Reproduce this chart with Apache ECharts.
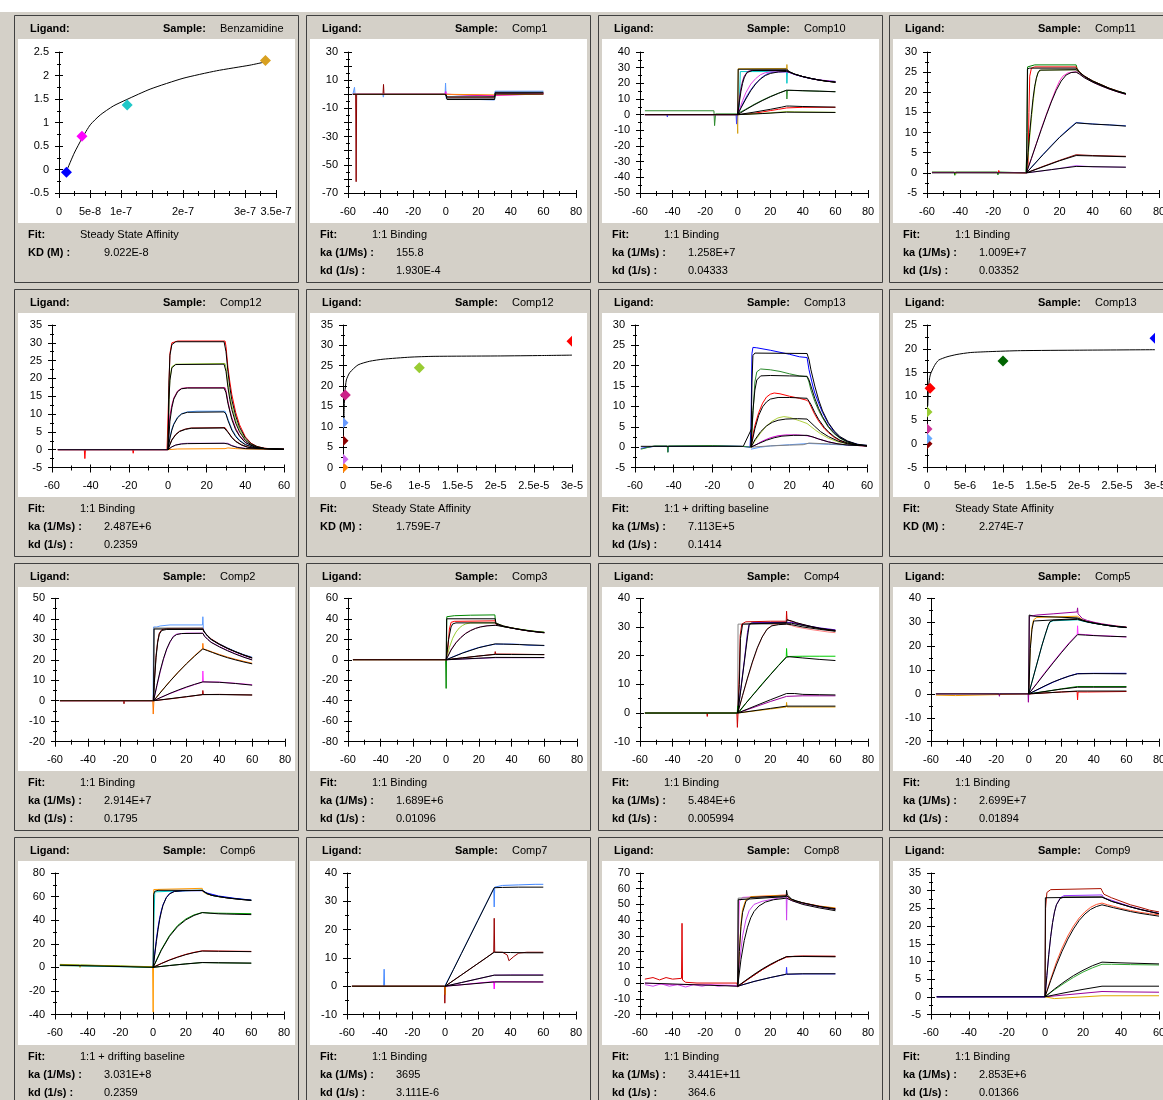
<!DOCTYPE html>
<html><head><meta charset="utf-8">
<script src="https://cdn.jsdelivr.net/npm/echarts/dist/echarts.min.js"></script>
<style>html,body{margin:0;padding:0;background:#fff}#c{width:1163px;height:1100px}</style>
</head><body><div id="c"></div>
<script>
// ---------------- DATA ----------------
const sampleNames = ['Benzamidine','Comp1','Comp10','Comp11','Comp12','Comp12','Comp13','Comp13','Comp2','Comp3','Comp4','Comp5','Comp6','Comp7','Comp8','Comp9'];
const fitNames = ['Steady State Affinity','1:1 Binding','1:1 Binding','1:1 Binding','1:1 Binding','Steady State Affinity','1:1 + drifting baseline','Steady State Affinity','1:1 Binding','1:1 Binding','1:1 Binding','1:1 Binding','1:1 + drifting baseline','1:1 Binding','1:1 Binding','1:1 Binding'];
const kaValues = ['','155.8','1.258E+7','1.009E+7','2.487E+6','','7.113E+5','','2.914E+7','1.689E+6','5.484E+6','2.699E+7','3.031E+8','3695','3.441E+11','2.853E+6'];
const kdValues = ['','1.930E-4','0.04333','0.03352','0.2359','','0.1414','','0.1795','0.01096','0.005994','0.01894','0.2359','3.111E-6','364.6','0.01366'];
const KDValues = ['9.022E-8','','','','','1.759E-7','','2.274E-7','','','','','','','',''];

const xRanges = [[0,3.5e-7,5e-8],[-60,80,20],[-60,80,20],[-60,80,20],
 [-60,60,20],[0,3e-5,5e-6],[-60,60,20],[0,3e-5,5e-6],
 [-60,80,20],[-60,80,20],[-60,80,20],[-60,80,20],
 [-60,80,20],[-60,80,20],[-60,80,20],[-60,60,20]];
const yRanges = [[-0.5,2.5,0.5],[-70,30,10],[-50,40,10],[-5,30,5],
 [-5,35,5],[0,35,5],[-5,30,5],[-5,25,5],
 [-20,50,10],[-80,60,20],[-10,40,10],[-20,40,10],
 [-40,80,20],[-10,40,10],[-20,70,10],[-5,35,5]];

const kineticTimeLabels = ['-60','-40','-20','0','20','40','60','80'];
const benzConcLabels = ['0','5e-8','1e-7','2e-7','3e-7','3.5e-7'];
const affConcLabels = ['0','5e-6','1e-5','1.5e-5','2e-5','2.5e-5','3e-5'];
const xTickLabels = [benzConcLabels,kineticTimeLabels,kineticTimeLabels,kineticTimeLabels,
 kineticTimeLabels,affConcLabels,kineticTimeLabels,affConcLabels,
 kineticTimeLabels,kineticTimeLabels,kineticTimeLabels,kineticTimeLabels,
 kineticTimeLabels,kineticTimeLabels,kineticTimeLabels,kineticTimeLabels];
const yTickLabels = [
 ['-0.5','0','0.5','1','1.5','2','2.5'],
 ['-70','-50','-30','-10','10','30'],
 ['-50','-40','-30','-20','-10','0','10','20','30','40'],
 ['-5','0','5','10','15','20','25','30'],
 ['-5','0','5','10','15','20','25','30','35'],
 ['0','5','10','15','20','25','30','35'],
 ['-5','0','5','10','15','20','25','30'],
 ['-5','0','5','10','15','20','25'],
 ['-20','-10','0','10','20','30','40','50'],
 ['-80','-60','-40','-20','0','20','40','60'],
 ['-10','0','10','20','30','40'],
 ['-20','-10','0','10','20','30','40'],
 ['-40','-20','0','20','40','60','80'],
 ['-10','0','10','20','30','40'],
 ['-20','-10','0','10','20','30','40','50','60','70'],
 ['-5','0','5','10','15','20','25','30','35']];

// Affinity panels
const benzConc = [1.2e-8, 3.7e-8, 1.1e-7, 3.33e-7];
const benzResp = [-0.06, 0.71, 1.37, 2.32];
const benzColors = ['#0000ff','#ff00ff','#20c8c8','#d8a020'];
const benzFitConc = [1.29e-8,2.46e-8,3.7e-8,5.04e-8,6.65e-8,8.74e-8,1.095e-7,1.47e-7,2.0e-7,2.54e-7,3.08e-7,3.33e-7];
const benzFitResp = [-0.01,0.35,0.66,0.95,1.16,1.35,1.49,1.71,1.94,2.1,2.22,2.29];

const comp12AffConc = [0, 0, 0, 0, 3e-7, 1e-5, 3e-5];
const comp12AffResp = [0, 2.0, 6.6, 11, 17.8, 24.5, 31];
const comp12AffColors = ['#ff8000','#cc66ee','#8b0000','#6699ff','#cc2288','#99cc33','#ff0000'];
const comp12AffFitConc = [1.3e-7,1.6e-7,2.5e-7,4.4e-7,8.8e-7,1.97e-6,3.5e-6,5.25e-6,8.76e-6,1.18e-5,2.06e-5,2.6e-5,3e-5];
const comp12AffFitResp = [12,15,18.5,21.5,23.3,25.2,26.1,26.6,27.1,27.3,27.4,27.5,27.6];

const comp13AffConc = [0, 0, 0, 0, 4e-7, 1e-5, 3e-5];
const comp13AffResp = [0, 1.1, 3.1, 6.7, 11.7, 17.4, 22.2];
const comp13AffColors = ['#8b0000','#66aaff','#cc3399','#99cc33','#ff0000','#006400','#0000ff'];
const comp13AffFitConc = [1e-7,2e-7,4.3e-7,1e-6,1.53e-6,2.63e-6,3.94e-6,5.69e-6,8.3e-6,1.23e-5,2.01e-5,3e-5];
const comp13AffFitResp = [8,12,14.5,16.5,17.6,18.3,18.8,19.2,19.4,19.6,19.7,19.8];

// Kinetic panels: [t, y, t, y, ...]
const comp1Colors = ['#8b0000','#5b9bff','#800080','#ff00ff','#808080','#ff8c00'];
const comp1Curves = [
 [-57,0,-55.3,0,-55,-62,-54.7,0,-38.5,0,-38.2,7,-37.9,0,-0.5,0,0,-1,1,-2.5,30,-2.5,30.3,0.5,60,0.5],
 [-57,0,-56.2,0,-56,5,-55.7,0,-38.6,0,-38.3,-2,-38,0,-0.4,0,-0.1,8,0.3,-3,1,-4,30,-4,30.3,2.2,60,2.2],
 [-57,0,0,0,1,-1.2,30,-1.2,30.3,0.8,60,0.8],
 [-57,0,-0.5,0,0,2,0.5,0,1,-0.8,30,-0.9,30.3,0.3,60,0.3],
 [-57,0,0,0,1,-3,30,-3,30.3,1,60,1],
 [-57,0,-18,0,-17.8,-0.6,-17.5,0,0,0,30,-0.4,30.3,0.4,60,0.1]];
const comp1Fits = [
 [-57,0,0,0,0.8,-1.8,30,-1.8,30.5,1.4,60,1.4],
 [0,0,0.8,-3.7,30,-3.7,30.5,0.2,60,0.2]];

const comp10Colors = ['#2e8b2e','#d4a017','#00c8c8','#800080','#4040ff','#e040e0','#ff0000','#9acd32'];
const comp10Curves = [
 [-57,2.5,-14.6,2.5,-14.2,-7,-13.6,0.5,-0.5,0.5,0,0,5,3.5,10,6.5,15,9.2,20,11.6,25,13.7,30,15.6,30.2,10,30.5,15.5,35,15.4,45,15.1,60,14.7],
 [-57,0,-50.2,0,-50,-0.8,-49.8,0,-0.4,0,0,-12,0.3,29.3,30,29.5,30.2,32,30.5,28,32,27,35,25.8,40,24.3,45,23,50,22,55,21.3,60,20.8],
 [-57,0,0,0,1,6,1.6,27.5,30,27.5,30.2,20,30.5,27.5,32,27,35,25.8,40,24.3,45,23.1,50,22.1,55,21.5,60,21.2],
 [-57,0,0,0,1,10,2,17,3,21.5,4,24.5,6,27.5,8,28.2,30,28.3,32,27,35,25.7,40,24.2,45,23,50,22,60,20.9],
 [-57,0,-43.5,0,-43.2,-1.5,-43,0,-1,0,-0.7,-6,-0.3,0,2,4.5,4,8.8,6,12.6,8,15.8,10,18.6,12,21,14,23,16,24.7,18,26,20,26.8,25,27.3,30,27.3,32,26.8,35,25.6,40,24.2,45,23,50,22.1,55,21.5,60,21.1],
 [0,0,1,3,3,9,5,14,8,19.5,11,23,14,25.5,17,26.8,20,27.3,30,27.4,32,26.9,35,25.7,40,24.3,45,23.1,50,22.2,60,21.2],
 [-57,0,0,0,5,0.3,10,0.9,15,1.7,20,2.6,25,3.4,30,4.3,30.5,4.6,40,4.7,60,4.7],
 [0,0,10,0.5,20,1.1,30,2,35,1.8,60,1.5]];
const comp10Fits = [
 [-57,0,0,0,0.3,29,30,29,32,27.3,35,25.9,40,24.3,45,23.1,50,22.1,55,21.3,60,20.7],
 [0,0,1,8,2,15,3,20,4,23.5,5,25.6,6,27,7,27.8,9,28.2,30,28.2,32,27.2,35,25.8,40,24.3,45,23.1,50,22.1,55,21.3,60,20.8],
 [0,0,2,4.3,5,10,8,15.3,11,19.6,14,22.8,17,25,20,26.3,25,27.3,30,27.6,32,27,35,25.8,40,24.3,45,23.1,50,22.1,55,21.3,60,20.8],
 [0,0,5,3.2,10,6.2,15,8.9,20,11.4,25,13.6,30,15.6,32,15.6,40,15.3,50,15,60,14.6],
 [0,0,10,1.6,20,3.4,27,4.8,30,5.5,32,5.5,40,5.2,60,4.8],
 [0,0,15,0.7,30,1.6,60,1.4]];

const comp11Colors = ['#008000','#ff0000','#9acd32','#ff33cc','#3366ff','#8b0000','#cc66ff'];
const comp11Curves = [
 [-57,0.2,-43.5,0.2,-43.2,-0.6,-42.8,0.2,-17.5,0.2,-17.2,-0.5,-16.8,0.2,-0.3,0,0,0,0.3,6,0.7,26.3,5,26.8,30,26.8,30.5,26,32,25,35,24,40,22.8,45,21.9,50,21,55,20.3,60,19.7],
 [-57,0.1,-17,0.1,-16.7,0.6,-16.3,0.1,0,0,1,2,1.5,15,2,24,3,26,5,26.3,30,26.3,30.5,25.8,32,25,35,24,40,22.8,45,21.9,50,21,55,20.3,60,19.6],
 [-57,0.1,-43,0.1,-42.7,-0.4,-42.4,0.1,0,0,1,4,2,9,3,13.5,4,17.5,5,21,6,23.5,7,25,9,25.5,30,25.6,32,24.9,35,23.9,40,22.7,45,21.8,50,20.9,55,20.2,60,19.6],
 [-57,0.1,-20,0.1,-19.5,0.4,-19,0.1,0,0,3,3.5,6,7.3,9,11,12,14.5,15,17.8,18,21,20,22.8,22,24,25,24.8,30,25.1,32,24.6,35,23.7,40,22.5,45,21.6,50,20.8,55,20.1,60,19.5],
 [0,0,5,2.3,10,4.6,15,6.8,20,8.9,25,10.8,30,12.5,35,12.3,45,12,60,11.7],
 [0,0,10,1.6,20,3.1,30,4.5,40,4.3,60,4.1],
 [0,0,10,0.5,20,1.1,30,1.8,40,1.5,60,1.4]];
const comp11Fits = [
 [-57,0,0,0,0.3,10,0.6,25.8,2,26,30,26,32,25,35,24,40,22.8,45,21.9,50,21,55,20.3,60,19.7],
 [0,0,1,5,2,10,3,14.5,4,18.5,5,21.5,6,23.5,7,24.8,8,25.5,30,25.6,32,24.9,35,23.9,40,22.7,45,21.8,50,20.9,55,20.2,60,19.6],
 [0,0,3,3.6,6,7.2,9,10.8,12,14.3,15,17.6,18,20.5,21,22.8,24,24.3,27,24.9,30,25,32,24.5,35,23.6,40,22.5,45,21.6,50,20.8,55,20.1,60,19.5],
 [0,0,10,4.5,20,8.8,30,12.4,40,12.1,50,11.9,60,11.6],
 [0,0,10,1.5,20,3,30,4.3,40,4.2,60,4],
 [0,0,15,0.8,30,1.6,60,1.4]];

const comp12Colors = ['#ff0000','#9acd32','#cc0077','#4499ff','#8b0000','#bb55dd','#ff8c00'];
const comp12Curves = [
 [-57,0,-43.3,0,-43,-2.5,-42.7,0,-18.3,0,-18,-1,-17.7,0,-0.5,0,0,0.5,0.5,18,1,27,2,30,5,30.5,29.5,30.5,30,29,31,23,32,19,33,15.5,35,10.5,37,7,40,3.6,43,1.8,46,0.9,50,0.4,55,0.2,60,0.2],
 [-57,0,0,0,0.5,14,1,20,2,23.3,4,24,29.5,24.2,30,23,31,18.5,32,15,33,12.3,35,8.3,37,5.6,40,2.9,43,1.5,46,0.8,50,0.3,60,0.1],
 [-57,0,-34,0,-33.7,-0.4,-33.4,0,0,0,0.5,6,1,9.5,2,12.5,3,14.5,5,16.5,7,17.2,10,17.4,29.5,17.4,30,16.5,31,13.5,32,11,33,9,35,6,37,4,40,2.1,43,1.1,46,0.6,50,0.3,60,0.1],
 [0,0,1,3.5,2,5.8,3,7.3,5,9.2,7,10.1,10,10.6,15,10.8,29.5,10.8,30,10.3,31,8.6,33,5.8,35,4,37,2.7,40,1.5,45,0.6,50,0.3,60,0.1],
 [0,0,1,1.5,2,2.8,4,4.3,6,5.2,9,5.8,12,6.1,29.5,6.2,30,6,31,5,33,3.5,35,2.4,38,1.4,41,0.8,45,0.4,60,0.1],
 [-57,0,-28,0,-27.6,-0.3,-27.2,0,0,0,2,0.8,4,1.3,7,1.7,10,1.8,29.5,1.8,30,2,31,1.8,33,1.2,36,0.7,40,0.4,60,0.1],
 [0,0,5,0.2,29.5,0.3,31,0.5,35,0.3,40,0.2,60,0.1]];
const comp12Fits = [
 [-57,0,0,0,0.5,19,1,26.5,2,29.5,4,30.3,29,30.3,30,27.5,31,22,32,17.5,33,14,35,9.5,37,6.3,40,3.3,43,1.7,46,0.9,50,0.35,60,0.1],
 [0,0,0.5,14,1,19.5,2,23,4,23.9,29,24,30,22,31,17.5,32,14,33,11.3,35,7.5,37,5,40,2.6,43,1.4,46,0.7,50,0.3,60,0.1],
 [0,0,1,8,2,11.8,3,14.2,5,16.3,7,17.1,10,17.3,29,17.3,30,16,31,13,33,8.5,35,5.6,37,3.8,40,2,45,0.7,50,0.3,60,0.1],
 [0,0,1,3.2,2,5.5,3,7.1,5,9,7,10,10,10.5,29,10.6,30,10,31,8.2,33,5.5,35,3.7,37,2.5,40,1.4,45,0.5,60,0.1],
 [0,0,1,1.4,2,2.7,4,4.2,6,5.1,9,5.7,12,6,29,6.1,30,5.9,31,4.9,33,3.4,35,2.3,38,1.3,41,0.7,45,0.4,60,0.1],
 [0,0,2,0.8,4,1.3,7,1.6,10,1.7,29,1.8,31,1.6,33,1.1,36,0.6,40,0.3,60,0.1]];

const comp13Colors = ['#0000ff','#2e8b2e','#ff0000','#b0d040','#cc00cc','#5b9bff','#808080'];
const comp13Curves = [
 [-57,-0.3,-50,0.2,-43.3,0.2,-43,-1.2,-42.7,0.2,-17.3,0.3,-17,0,-16.7,0.3,-5,0.2,-0.5,0,0,5,0.5,23,1,24.5,3,24.4,10,23.8,20,22.8,25,22.2,29,22,30,19,31,17,32,15,33,13.3,35,10.8,37,8.5,40,5.8,43,3.8,46,2.4,50,1.4,55,0.7,60,0.4],
 [-57,-0.5,-50,0.3,-43.3,0.3,-43,-1.3,-42.7,0.3,-20,0.4,-5,0.2,0,0,1,8,2,16,3,18.5,5,19.2,10,19,15,18.6,20,18,25,17.5,29,17.3,30,16,31,14,33,11.2,35,9,37,7.2,40,4.9,43,3.3,46,2.2,50,1.2,55,0.6,60,0.3],
 [0,0,1,3,2,5.3,4,8.5,6,10.8,8,12.3,10,13,12,13.3,15,13.1,20,12.5,25,12,29,11.5,30,11,31,10,33,8,35,6.4,38,4.5,40,3.6,43,2.4,46,1.6,50,0.9,55,0.4,60,0.3],
 [0,0,2,1.5,5,3.5,8,5.2,11,6.4,14,7.2,17,7.5,20,7.3,25,6.5,29,5.8,30,5.5,33,4.3,36,3.3,40,2.2,45,1.3,50,0.8,55,0.5,60,0.3],
 [0,0,3,0.7,6,1.5,10,2.3,14,2.8,18,3.0,24,3.0,29,2.8,32,2.5,35,2,40,1.3,45,0.8,50,0.5,60,0.3],
 [0,-0.5,5,0,10,0.3,20,0.6,30,0.9,40,0.7,50,0.5,60,0.4],
 [0,0,10,0.3,20,0.5,27,0.6,30,1,40,0.8,50,0.6,60,0.5]];
const comp13Fits = [
 [-57,0.2,-4,0.2,0.3,4.5],
 [0,0.2,0.5,16,1,22.5,2,23.1,29,23,30,21.5,31,19,33,15,35,11.6,37,8.9,40,6,43,4,46,2.6,50,1.5,55,0.7,60,0.4],
 [0,0,1,9,2,14,3,16.5,5,17.5,10,17.6,20,17.5,29,17.4,30,16.5,31,15,33,12,35,9.5,37,7.5,40,5.1,43,3.5,46,2.3,50,1.3,55,0.6,60,0.3],
 [0,0,2,4.5,4,7.8,6,9.9,8,11.1,10,11.8,14,12.2,20,12.2,29,12,30,11.6,31,10.5,33,8.5,35,6.8,38,4.8,40,3.8,43,2.6,46,1.7,50,1,55,0.5,60,0.3],
 [0,0,2,1.8,5,3.8,8,5.2,11,6.1,14,6.6,18,6.9,24,7,29,6.9,30,6.7,33,5.1,36,3.8,40,2.6,45,1.5,50,0.8,55,0.5,60,0.3],
 [0,0,4,0.9,8,1.7,12,2.3,16,2.7,22,2.9,29,2.9,32,2.5,35,2,40,1.3,45,0.8,50,0.5,60,0.3]];

const comp2Colors = ['#5b9bff','#990000','#dd44ee','#ff7700','#ff33ff','#aa0000','#808080'];
const comp2Curves = [
 [-57,0,-0.3,0,0,36,2,36,4,36.5,10,37,29.8,37,30,41,30.3,35,31,33.5,33,31.5,35,30,38,28.6,40,27.8,45,25.8,50,24,55,22.5,60,21.3],
 [-57,0,-18.3,0,-18,-1.5,-17.7,0,-0.3,0,0,0,0.5,10,1.5,22,2.5,29,3.5,33,5,34.7,8,35.3,30,35.4,30.4,34,32,32.5,35,30.2,40,27.7,45,25.6,50,23.8,55,22.3,60,21],
 [-57,0,0,0,2,7,4,14,6,20,8,25,10,28.5,12,31.5,14,32.5,20,33,30,33,31,31.5,33,30,35,28.6,40,26.5,45,24.6,50,22.9,55,21.4,60,20],
 [-57,0,-50,0,-49.7,0.6,-49.4,0,-0.5,0,-0.2,-6.5,0.2,0,5,4.9,10,9.6,15,14,20,18.2,25,22,29.8,25.5,30,28,30.3,25.3,33,24.6,36,23.7,40,22.6,45,21.3,50,20.2,55,19.2,60,18.3],
 [0,0,5,1.8,10,3.5,15,5,20,6.5,25,7.9,29.8,9.1,30,14.5,30.3,9.2,40,9.1,50,8.5,60,7.8],
 [0,0,10,0.9,20,1.9,29.8,3,30,5,30.3,3,40,3.1,60,2.8],
 [0,0,0.2,35.5,30,35.5]];
const comp2Fits = [
 [-57,0,0,0,0.3,35,30,35,31,33.5,33,31.5,35,30,38,28.5,40,27.6,45,25.6,50,23.9,55,22.3,60,20.9],
 [0,0,0.5,9,1.5,21,2.5,28.5,3.5,32.5,5,34.3,8,34.8,30,34.8,31,33.4,33,31.4,35,29.9,40,27.5,45,25.5,50,23.8,55,22.2,60,20.8],
 [0,0,2,7.5,4,14.5,6,20.5,8,25.3,10,28.8,12,31.2,14,32.3,17,32.8,30,32.9,31,31.5,33,29.9,35,28.5,40,26.3,45,24.4,50,22.7,55,21.2,60,19.9],
 [0,0,5,4.8,10,9.5,15,13.9,20,18,25,21.8,30,25.3,33,24.4,36,23.5,40,22.3,45,21,50,19.9,55,18.9,60,18],
 [0,0,5,1.8,10,3.6,15,5.2,20,6.7,25,8,30,9.2,40,9,50,8.4,60,7.6],
 [0,0,10,1,20,2,30,3,40,3,60,2.8]];

const comp3Colors = ['#008800','#ff0000','#99cc33','#ff66cc','#3366ff','#aa0000','#9933cc'];
const comp3Curves = [
 [-57,0,-50,0,-49.7,-1,-49.4,0,-42,0,-41.7,-1.5,-41.4,0,-0.3,0,0,-28,0.2,0,0.4,42,5,43,15,43.5,29.8,43.8,30,45,30.3,35,31,34,33,33,36,32,40,31,45,29.8,50,28.7,55,27.7,60,27],
 [-57,0,0,0,1,10,2,30,3,36.5,5,37.5,30,38,30.3,35,33,33.5,36,32.3,40,31,45,29.6,50,28.3,55,27.4,60,26.5],
 [0,0,2,12,4,21,6,27,8,31,10,33.5,12,35,15,36,30,36,31,35,35,33,40,31.2,50,28.5,60,26.7],
 [0,0,3,10,6,17,9,22,12,26,15,28.8,18,30.8,21,32.2,25,33.2,30,33.8,33,33.2,36,32.3,40,31,45,29.5,50,28.3,55,27.3,60,26.3],
 [0,0,5,3.5,10,6.7,15,9.5,20,12,25,13.8,30,15.2,40,15.3,45,15,50,14.2,60,13.8],
 [0,0,10,1.8,20,3.6,29.8,5.4,30,8,30.3,5.6,40,5.5,60,5],
 [0,0,10,0.7,20,1.3,30,2,40,2,60,2]];
const comp3Fits = [
 [-57,0,0,0,0.3,40,30,40,30.5,35,33,33.4,36,32.2,40,31,45,29.6,50,28.3,55,27.3,60,26.5],
 [0,0,1.5,20,3,32,4,35,6,36,30,36,31,35,35,33,40,31.1,45,29.6,50,28.4,55,27.4,60,26.6],
 [0,0,3,9.5,6,16.5,9,21.7,12,25.7,15,28.5,18,30.6,21,32,25,33.1,30,33.6,33,33,36,32.1,40,30.9,45,29.5,50,28.2,55,27.2,60,26.3],
 [0,0,10,6.5,20,11.8,30,15.5,35,15.3,45,14.8,60,14],
 [0,0,10,1.9,20,3.7,30,5.2,40,5.1,60,5],
 [0,0,30,2.3,60,2.2]];

const comp4Colors = ['#888888','#cc0000','#5500cc','#ff7f7f','#00cc00','#990099','#dd9900'];
const comp4Curves = [
 [-57,0,0,0,0.2,31,30,31],
 [-57,0,-19,0,-18.7,-1.2,-18.4,0,-0.5,0,-0.2,-5,0.2,0,1,15,1.5,27,2.5,31,5,31.8,20,32,29.8,32,30,35.5,30.3,32.5,33,32,36,31.4,40,30.8,45,30.1,50,29.5,55,29,60,28.8],
 [0,0,2,9,4,18,5,23,6,28,7,31,9,31.5,30,31.6,33,31.6,40,30.7,50,29.7,60,29],
 [0,0,3,6,6,12,9,17.5,12,22.5,15,26.5,18,29.3,21,30.6,25,31,30,31,33,30.5,36,30,40,29.6,45,29.1,50,28.7,55,28.3,60,28],
 [-57,0,-0.3,0,0,2.5,0.5,0,5,3.4,10,6.8,15,10.2,20,13.4,25,16.6,29.8,19.6,30,22.5,30.3,19.7,40,19.8,50,19.8,60,19.8],
 [0,0,10,2,20,4,30,5.8,40,6,50,6,60,6],
 [0,0,10,0.7,20,1.4,29.8,2.1,30,3.7,30.3,2.1,40,2.1,60,2.1]];
const comp4Fits = [
 [-57,0,0,0,1,10,1.7,26,3,31,30,31.5,30.3,32.5,33,32.1,36,31.5,40,30.9,45,30.2,50,29.6,55,29.1,60,28.6],
 [0,0,2,8.5,4,17.5,5,22,6,26.5,7,30.5,8,31.3,30,31.3,33,31.3,40,30.5,50,29.5,60,28.8],
 [0,0,3,6.2,6,12.2,9,17.8,12,22.7,15,26.5,18,29.2,21,30.4,25,30.8,30,31,33,30.8,40,30,50,29.2,60,28.5],
 [0,0,5,3.4,10,6.7,15,10,20,13.3,25,16.5,30,19.5,32,19.6,40,19.2,50,18.7,60,18.3],
 [0,0,10,2.3,20,4.6,30,6.8,35,6.8,40,6.5,50,6.4,60,6.3],
 [0,0,10,0.8,20,1.6,30,2.4,60,2.4]];

const comp5Colors = ['#ee9900','#990099','#00bbbb','#ff33ff','#0000ff','#008800','#ff0000'];
const comp5Curves = [
 [-57,-0.5,-45,-0.7,-44.5,-1.5,-44,0,-0.3,0,0,1,1,20,2,28,3,31,5,32,30,32.5,30.5,32,33,31,36,30.3,40,29.8,45,29.2,50,28.7,55,28.3,60,28],
 [-57,0,-18.3,0,-18,-1,-17.7,0,-0.4,0,-0.2,-3.5,0,0,0.4,32.5,5,33,15,33.5,29.7,34.3,30,36,30.3,33.5,33,31.5,36,30.7,40,30,45,29.3,50,28.8,55,28.3,60,28],
 [0,0,2,5,4,10,6,15,8,20,10,24.5,12,28.5,13,30,15,30.6,30,31,33,30.5,36,30,40,29.5,45,29,50,28.5,55,28.1,60,27.7],
 [0,0,5,4.5,10,9,15,13.3,20,17.5,25,21.5,29.8,25,30,28.5,30.3,25,35,24.8,40,24.5,50,24.2,60,23.8],
 [0,0,5,1.6,10,3.3,15,4.9,20,6.3,25,7.5,30,8.5,40,8.6,50,8.6,60,8.6],
 [0,0,10,1,20,2.1,30,3.1,40,3.1,60,3.1],
 [0,0,20,0.8,29.7,1,30,-2.5,30.3,0.8,36,0.8,36.5,1.5,37,0.8,60,1]];
const comp5Fits = [
 [-57,0,0,0,0.3,33,3,32.5,30,31.8,31,31.5,33,30.9,36,30.2,40,29.6,45,29,50,28.5,55,28.1,60,27.8],
 [0,0,1,19,2,27,3,30.5,4,31.3,30,31.5,33,30.8,36,30.2,40,29.6,45,29,50,28.5,55,28.1,60,27.8],
 [0,0,2,5,4,10,6,15,8,20,10,24.5,12,28.8,13,30.2,15,30.8,30,31.2,33,30.6,36,30.1,40,29.6,45,29,50,28.5,55,28.1,60,27.8],
 [0,0,5,4.3,10,8.7,15,13,20,17.2,25,21.2,30,24.8,35,24.6,40,24.4,50,24.1,60,23.9],
 [0,0,5,1.7,10,3.4,15,5,20,6.3,25,7.5,30,8.4,40,8.5,60,8.4],
 [0,0,10,1,20,2,30,2.8,40,2.8,60,2.8],
 [0,0,10,0.4,20,0.8,30,1.2,60,1.2]];

const comp6Colors = ['#ff9900','#00cccc','#0000ff','#009900','#ff0000','#006600','#999900'];
const comp6Curves = [
 [-57,1.5,-30,1,-0.3,0.2,0,-38,0.2,0,0.4,66,30,67,30.5,64,33,62,36,61,40,60,45,59,50,58.3,55,57.6,60,57],
 [-57,1.5,0,0,0.3,30,1,64,30,65.5,32,63,36,61,40,60,50,58.3,60,57],
 [0,0,1,12,2,24,3,34,4,42,5,48,6,53,8,59,10,62.5,13,64.5,20,65,30,65,33,63,40,60.5,50,58.5,60,57],
 [-57,2,-40,1.7,-20,1,0,0,5,15,10,27,15,35.5,20,41,25,44.5,30,46.5,35,46,45,45.8,60,45.5],
 [0,0,5,3.3,10,6.3,15,8.8,20,11,25,12.7,30,14,40,13.8,60,13.5],
 [0,0,10,1.6,20,2.9,30,4,40,3.8,60,3.5],
 [-57,2.5,-45,2,-44.7,0,-44.4,2,-20,1.2,0,0.5]];
const comp6Fits = [
 [-57,1.8,-30,1,0,0,0.3,62,1,64.5,3,65.3,30,65.3,31,64,33,62.5,36,61,40,60,45,58.9,50,58.1,55,57.4,60,56.8],
 [0,0,1,11,2,22,3,32,4,40.5,5,47,6,52.5,8,59,10,62.3,13,64.3,18,65,30,65.2,31,64,33,62.5,36,61,40,60,45,58.9,50,58.1,55,57.4,60,56.8],
 [0,0,5,14.5,10,26.3,15,34.7,20,40.3,25,44,30,46.4,31,45.8,40,45.4,50,45,60,44.7],
 [0,0,5,3.2,10,6.1,15,8.6,20,10.8,25,12.5,30,13.8,40,13.6,60,13.3],
 [0,0,10,1.5,20,2.9,30,4.1,40,3.9,60,3.6]];

const comp7Colors = ['#4488ff','#990000','#9933cc','#ff00ff','#cc6600'];
const comp7Curves = [
 [-57,0,-37.6,0,-37.3,6,-37,0,-0.3,0,0,0,5,5.9,10,11.7,15,17.5,20,23.3,25,29.1,29.7,34.5,30,28,30.3,35,35,35.6,45,35.8,55,36,60,36],
 [-57,0,-0.4,0,-0.2,-6,0.1,0,5,2,10,4,15,6,20,8,25,10,29.7,12,30,24,30.3,12,35,12,38,11,39,9,40,9.2,42,10.5,45,11.7,50,12,60,12],
 [0,0,10,1.3,20,2.6,30,3.9,40,4,60,4],
 [0,0,10,0.5,20,1.1,29.7,1.6,30,-1,30.3,1.6,60,1.5],
 [-57,0,-0.3,0,0,-3,0.3,0]];
const comp7Fits = [
 [-57,0,0,0,5,5.8,10,11.6,15,17.4,20,23.2,25,29,30,34.8,35,34.9,45,35,60,35],
 [0,0,10,4,20,8,30,12,40,11.9,50,11.8,60,11.8],
 [0,0,10,1.3,20,2.6,30,3.9,60,3.9],
 [0,0,30,1.5,60,1.5]];

const comp8Colors = ['#dd0000','#cc44ee','#ff44ff','#ff9900','#777777','#3333ff','#990000'];
const comp8Curves = [
 [-57,2.5,-52,3.5,-48,2,-44,3.5,-40,2.5,-34.5,3,-34.2,38,-33.9,2,-32,0.5,-25,0,-0.5,0,0,-2.5,5,1.5,10,5,15,8.5,20,11.5,25,14.3,30,16.5,35,17,45,17,60,17],
 [-57,-1,-52,-2,-47,-0.5,-42,-2,-37,-1,-32,-2.5,-27,-1,-22,-2,-17,-1,-12,-2,-7,-1.5,0,-2,1,12,3,30,5,40,7,46,10,50,15,52,20,53,25,54,29.8,55,30,40,30.3,54,33,52.5,36,51.5,40,50.5,45,49.5,50,48.5,55,47.5,60,47],
 [-57,0,-40,-1,-20,-1,0,-1.5,0.3,25,1,52,3,54.5,30,56,30.5,54,35,52,40,51,50,49,60,47.5],
 [0,-2,1,20,2,38,3,47,5,53,8,55,30,56,32,53.5,36,52,40,51,50,49,60,47.8],
 [0,-2,0.3,54,30,55],
 [0,-2,5,-0.5,10,1,20,3.5,29.7,5.5,30,10,30.3,5.5,40,5.8,60,5.8],
 [0,-2,5,1.5,10,5,15,8.5,20,11.5,25,14.3,30,16.8,40,17.2,60,17]];
const comp8Fits = [
 [-57,0,0,-2,0.3,53,29.8,55,30,59,30.5,56,33,53.5,36,52,40,51,45,49.8,50,48.7,55,47.7,60,46.8],
 [0,-2,2,15,4,27,6,35.5,8,41.5,10,45.5,13,49,17,51.5,22,53,30,54,33,52.5,40,50,50,47.8,60,46],
 [0,-2,1,20,2,36,3,45,5,52,8,54.5,30,55.5,33,53.3,40,51,50,48.8,60,47.3],
 [0,-2,5,1.8,10,5.5,15,8.9,20,11.9,25,14.5,30,16.8,40,16.9,60,16.7],
 [0,-2,10,1,20,3.5,30,5.7,40,5.9,60,5.9]];

const comp9Colors = ['#aa1100','#9933ff','#ff5533','#33aa33','#990099','#ddaa00','#0000ff'];
const comp9Curves = [
 [-57,0,0,0,0.3,25,1,29.5,3,30.3,29.5,30.6,30,30,31,29,35,28,40,27,45,26,50,25.3,55,24.5,60,24],
 [-57,0,0,0,1,6,2,12,3,17,4,21,5,24,6,26,8,28,10,28.6,30,28.8,31,28,35,27.3,40,26.4,45,25.5,50,24.8,55,24.1,60,23.6],
 [0,0,3,5,6,9.8,9,13.8,12,17.2,15,20,18,22.3,21,24,24,25.3,27,26.1,30,26.5,33,26,36,25.6,40,25,45,24.4,50,23.9,55,23.5,60,23.2],
 [0,0,5,2,10,3.8,15,5.5,20,7,25,8.2,30,9.2,35,9.2,45,9.1,60,9],
 [0,0,10,0.5,20,1,30,1.5,40,1.4,60,1.3],
 [0,0,5,-0.5,6,0,30,0.3,60,0.3],
 [-57,0,-45.3,0,-45,-0.4,-44.7,0,-20,0,0,0]];
const comp9Fits = [
 [-57,0,0,0,0.2,28,30,28.2,31,27.7,35,27,40,26.2,45,25.4,50,24.7,55,24.1,60,23.5],
 [0,0,1,6,2,12,3,17,4,21,5,24,6,26,8,27.8,10,28.2,30,28.2,31,27.7,35,27,40,26.2,45,25.4,50,24.7,55,24.1,60,23.5],
 [0,0,3,4.6,6,9,9,12.9,12,16.3,15,19.2,18,21.6,21,23.4,24,24.7,27,25.5,30,26,33,25.6,36,25.2,40,24.7,45,24.1,50,23.6,55,23.2,60,22.8],
 [0,0,5,2.2,10,4.2,15,6,20,7.5,25,8.8,30,9.8,40,9.6,60,9.3],
 [0,0,10,1.1,20,2.1,30,3,40,3,60,3]];

// ---------------- LAYOUT ----------------
const FONT = '"Liberation Sans", Arial, sans-serif';
const colX = [14, 306, 598, 889];
const rowY = [15, 289, 563, 837];
const axisLeft  = [59,348,640,927, 52,343,635,927, 55,348,640,931, 55,347,640,931];
const axisRight = [276,576,868,1159, 284,572,867,1155, 285,577,868,1159, 284,576,868,1159];
const axisTop = [52, 325, 598.3, 873];
const axisBottom = [193, 467.5, 741.7, 1014.5];

function pairs(a){ const o=[]; for(let k=0;k<a.length;k+=2) o.push([a[k],a[k+1]]); return o; }
function lookup(labels, step){
  const vals = labels.map(Number);
  return function(v){ for(let k=0;k<vals.length;k++){ if(Math.abs(vals[k]-v) <= step*1e-4) return labels[k]; } return ''; };
}

const graphics=[], grids=[], xAxes=[], yAxes=[], series=[];
graphics.push({type:'rect', silent:true, z:-20, shape:{x:0,y:12,width:1163,height:1088}, style:{fill:'#d4d0c8'}});

function txt(x,y,s,bold){
  return {type:'text', silent:true, z:10, x:x, y:y, style:{text:s, fill:'#000', font:(bold?'bold ':'')+'11px '+FONT, verticalAlign:'middle', align:'left'}};
}

const tickColor = '#000';
for (let i=0;i<16;i++){
  const r=Math.floor(i/4), c=i%4, x0=colX[c], y0=rowY[r];
  graphics.push({type:'rect', silent:true, z:-15, shape:{x:x0+0.5,y:y0+0.5,width:284,height:267}, style:{fill:'#d4d0c8', stroke:'#404040', lineWidth:1}});
  graphics.push({type:'rect', silent:true, z:-14, shape:{x:x0+4,y:y0+24,width:277,height:184}, style:{fill:'#ffffff'}});
  graphics.push(txt(x0+16, y0+13.5, 'Ligand:', true));
  graphics.push(txt(x0+149, y0+13.5, 'Sample:', true));
  graphics.push(txt(x0+206, y0+13.5, sampleNames[i], false));
  graphics.push(txt(x0+14, y0+219.5, 'Fit:', true));
  graphics.push(txt(x0+66, y0+219.5, fitNames[i], false));
  if (KDValues[i]) {
    graphics.push(txt(x0+14, y0+237.5, 'KD (M) :', true));
    graphics.push(txt(x0+90, y0+237.5, KDValues[i], false));
  } else {
    graphics.push(txt(x0+14, y0+237.5, 'ka (1/Ms) :', true));
    graphics.push(txt(x0+90, y0+237.5, kaValues[i], false));
    graphics.push(txt(x0+14, y0+256, 'kd (1/s) :', true));
    graphics.push(txt(x0+90, y0+256, kdValues[i], false));
  }

  grids.push({left:axisLeft[i], top:axisTop[r], width:axisRight[i]-axisLeft[i], height:axisBottom[r]-axisTop[r], containLabel:false, outerBoundsMode:'none', show:false});

  const xr=xRanges[i], yr=yRanges[i];
  const common = {type:'value', gridIndex:i, splitLine:{show:false}, splitArea:{show:false}, silent:true, scale:false};
  xAxes.push(Object.assign({}, common, {min:xr[0], max:xr[1], interval:xr[2], position:'bottom',
    axisLine:{show:true, onZero:false, lineStyle:{color:'#000', width:1}},
    axisTick:{show:true, inside:false, length:5, lineStyle:{color:tickColor, width:1}},
    minorTick:{show:true, splitNumber:2, length:3, lineStyle:{color:tickColor, width:1}},
    axisLabel:{show:true, margin:13, color:'#000', fontSize:11, fontFamily:FONT, formatter:lookup(xTickLabels[i], xr[2]), showMinLabel:true, showMaxLabel:true, hideOverlap:false}}));
  xAxes.push(Object.assign({}, common, {min:xr[0], max:xr[1], interval:xr[2], position:'bottom',
    axisLine:{show:false, onZero:false},
    axisTick:{show:true, inside:true, length:3, lineStyle:{color:tickColor, width:1}},
    minorTick:{show:true, splitNumber:2, length:2, lineStyle:{color:tickColor, width:1}},
    axisLabel:{show:false}}));
  yAxes.push(Object.assign({}, common, {min:yr[0], max:yr[1], interval:yr[2], position:'left',
    axisLine:{show:true, onZero:false, lineStyle:{color:'#000', width:1}},
    axisTick:{show:true, inside:false, length:4, lineStyle:{color:tickColor, width:1}},
    minorTick:{show:true, splitNumber:2, length:2, lineStyle:{color:tickColor, width:1}},
    axisLabel:{show:true, margin:10, color:'#000', fontSize:11, fontFamily:FONT, formatter:lookup(yTickLabels[i], yr[2]), showMinLabel:true, showMaxLabel:true, hideOverlap:false}}));
  yAxes.push(Object.assign({}, common, {min:yr[0], max:yr[1], interval:yr[2], position:'left',
    axisLine:{show:false, onZero:false},
    axisTick:{show:true, inside:true, length:4, lineStyle:{color:tickColor, width:1}},
    minorTick:{show:true, splitNumber:2, length:2, lineStyle:{color:tickColor, width:1}},
    axisLabel:{show:false}}));
}

function lineSeries(i, data, color, z){
  return {type:'line', xAxisIndex:2*i, yAxisIndex:2*i, data:data, showSymbol:false, symbol:'none',
    lineStyle:{color:color, width:1}, itemStyle:{color:color}, z:z, silent:true, animation:false, emphasis:{disabled:true}, clip:true};
}
function addKinetic(i, colors, curves, fits){
  curves.forEach(function(cv,k){ series.push(lineSeries(i, pairs(cv), colors[k], 2)); });
  fits.forEach(function(f){ series.push(lineSeries(i, pairs(f), '#000000', 3)); });
}
const HALF_R = 'path://M0,0L1,1L0,2Z';
const HALF_L = 'path://M1,0L0,1L1,2Z';
function addAffinity(i, conc, resp, colors, fitConc, fitResp){
  const fit = fitConc.map(function(x,k){ return [x, fitResp[k]]; });
  const s = lineSeries(i, fit, '#000000', 3); s.smooth = 0.2;
  series.push(s);
  const xr = xRanges[i];
  conc.forEach(function(x,k){
    let sym='diamond', size=11, off=[0,0];
    if (x <= xr[0]) { sym=HALF_R; size=[5.5,11]; off=[2.75,0]; }
    else if (x >= xr[1]) { sym=HALF_L; size=[5.5,11]; off=[-2.75,0]; }
    series.push({type:'scatter', xAxisIndex:2*i, yAxisIndex:2*i, data:[[x, resp[k]]], symbol:sym, symbolSize:size, symbolOffset:off, symbolKeepAspect:false,
      itemStyle:{color:colors[k], opacity:1}, z:5, silent:true, clip:false, animation:false, emphasis:{disabled:true}});
  });
}

addAffinity(0, benzConc, benzResp, benzColors, benzFitConc, benzFitResp);
addKinetic(1, comp1Colors, comp1Curves, comp1Fits);
addKinetic(2, comp10Colors, comp10Curves, comp10Fits);
addKinetic(3, comp11Colors, comp11Curves, comp11Fits);
addKinetic(4, comp12Colors, comp12Curves, comp12Fits);
addAffinity(5, comp12AffConc, comp12AffResp, comp12AffColors, comp12AffFitConc, comp12AffFitResp);
addKinetic(6, comp13Colors, comp13Curves, comp13Fits);
addAffinity(7, comp13AffConc, comp13AffResp, comp13AffColors, comp13AffFitConc, comp13AffFitResp);
addKinetic(8, comp2Colors, comp2Curves, comp2Fits);
addKinetic(9, comp3Colors, comp3Curves, comp3Fits);
addKinetic(10, comp4Colors, comp4Curves, comp4Fits);
addKinetic(11, comp5Colors, comp5Curves, comp5Fits);
addKinetic(12, comp6Colors, comp6Curves, comp6Fits);
addKinetic(13, comp7Colors, comp7Curves, comp7Fits);
addKinetic(14, comp8Colors, comp8Curves, comp8Fits);
addKinetic(15, comp9Colors, comp9Curves, comp9Fits);

const chart = echarts.init(document.getElementById('c'), null, {renderer:'canvas', width:1163, height:1100});
chart.setOption({
  animation:false,
  backgroundColor:'#ffffff',
  tooltip:{show:false},
  graphic:{elements:graphics},
  grid:grids, xAxis:xAxes, yAxis:yAxes, series:series
});
</script>
</body></html>
